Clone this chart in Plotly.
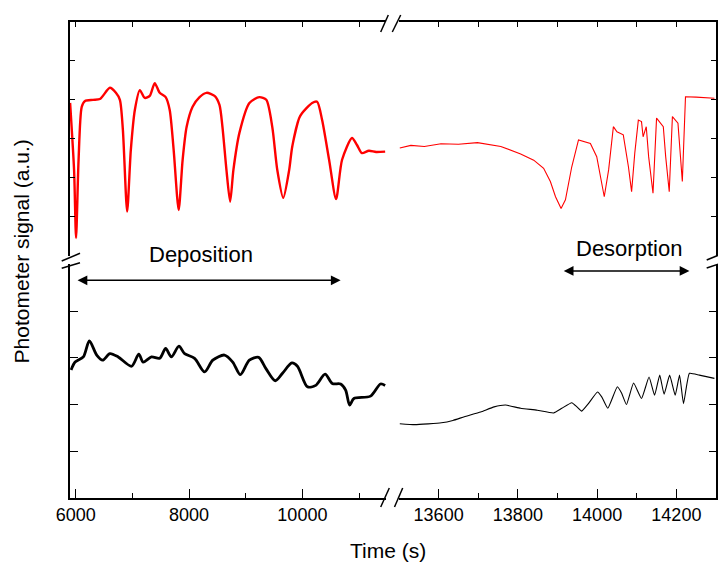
import plotly.graph_objects as go
from plotly.subplots import make_subplots

# ---- data (time in s, signal in arbitrary units) ----
red_dep_t = [5902, 5972, 6007, 6051, 6107, 6165, 6306, 6429, 6604, 6710, 6780, 6833, 6908, 6973,
             7044, 7132, 7219, 7307, 7395, 7483, 7588, 7659, 7729, 7817, 7887, 7957, 8063, 8186,
             8309, 8450, 8537, 8590, 8660, 8725, 8783, 8889, 9065, 9240, 9363, 9469, 9557, 9662,
             9767, 9820, 9943, 9996, 10172, 10260, 10348, 10471, 10594, 10700, 10875, 10963,
             11050, 11173, 11300, 11460]
red_dep_v = [3.92, 2.19, 0.45, 2.45, 3.82, 3.97, 4.00, 4.02, 4.31, 4.18, 4.00, 3.23, 1.13, 2.71,
             3.74, 4.25, 4.05, 4.10, 4.43, 4.18, 4.07, 3.74, 2.71, 1.17, 2.46, 3.30, 3.82, 4.07,
             4.18, 4.10, 3.87, 3.30, 2.20, 1.38, 2.20, 3.15, 3.92, 4.07, 4.00, 3.30, 2.20, 1.48,
             2.20, 2.79, 3.53, 3.66, 3.92, 3.95, 3.48, 2.46, 1.45, 2.46, 3.02, 2.84,
             2.63, 2.69, 2.66, 2.67]

red_des_t = [13502, 13530, 13564, 13606, 13650, 13698, 13757, 13807, 13840, 13865, 13882, 13895,
             13909, 13920, 13936, 13953, 13983, 13999, 14018, 14029, 14041, 14050, 14066, 14079,
             14087, 14095, 14104, 14112, 14116, 14124, 14130, 14141, 14150, 14167, 14173, 14182,
             14190, 14204, 14215, 14223, 14250, 14296]
red_des_v = [2.76, 2.83, 2.80, 2.87, 2.86, 2.90, 2.80, 2.61, 2.45, 2.24, 1.90, 1.51,
             1.21, 1.43, 2.28, 2.97, 2.88, 2.54, 1.51, 2.20, 3.31, 3.18, 3.10, 2.28,
             1.64, 2.63, 3.48, 3.44, 3.05, 3.31, 2.54, 1.60, 3.53, 3.31, 2.54, 1.64,
             3.57, 3.40, 1.90, 4.08, 4.07, 4.04]

blk_dep_t = [5919, 5990, 6135, 6241, 6371, 6476, 6604, 6750, 6986, 7114, 7190, 7337, 7483, 7588,
             7688, 7822, 7922, 8098, 8274, 8419, 8625, 8771, 8906, 9064, 9228, 9357, 9521, 9649,
             9814, 9913, 10089, 10236, 10400, 10528, 10675, 10763, 10833, 10909, 11202, 11378,
             11460]
blk_dep_v = [2.74, 2.91, 3.02, 3.36, 3.06, 2.95, 3.09, 3.02, 2.82, 3.08, 2.91, 3.02, 2.99, 3.20,
             3.02, 3.25, 3.09, 2.99, 2.70, 2.95, 3.06, 2.91, 2.64, 2.95, 3.01, 2.77, 2.51, 2.67,
             2.89, 2.82, 2.38, 2.41, 2.65, 2.45, 2.44, 2.31, 1.99, 2.13, 2.18, 2.44,
             2.41]

blk_des_t = [13502, 13540, 13607, 13636, 13665, 13706, 13740, 13769, 13807, 13849, 13890, 13911,
             13936, 13949, 13961, 13978, 14001, 14012, 14027, 14051, 14062, 14074, 14092, 14112,
             14131, 14145, 14158, 14169, 14183, 14197, 14208, 14218, 14233, 14258, 14296]
blk_des_v = [1.59, 1.57, 1.61, 1.66, 1.74, 1.84, 1.95, 1.99, 1.92, 1.88, 1.82, 1.92,
             2.04, 1.95, 1.86, 2.02, 2.27, 2.16, 1.92, 2.38, 2.24, 2.00, 2.46, 2.13,
             2.59, 2.20, 2.63, 2.22, 2.63, 2.20, 2.63, 2.02, 2.67, 2.63, 2.56]

FONT = "Liberation Sans, Arial, sans-serif"
W, H = 718, 562
ML, MR, MT, MB = 70, 2, 22, 64
PW, PH = W - ML - MR, H - MT - MB


def px(x):
    return (x - ML) / PW


def py(y):
    return (H - MB - y) / PH


fig = make_subplots(rows=2, cols=2)

fig.add_trace(go.Scatter(x=red_dep_t, y=red_dep_v, mode="lines",
                         line=dict(color="#ff0000", width=2.4, shape="spline", smoothing=0.7)),
              row=1, col=1)
fig.add_trace(go.Scatter(x=red_des_t, y=red_des_v, mode="lines",
                         line=dict(color="#ff0000", width=1.1)), row=1, col=2)
fig.add_trace(go.Scatter(x=blk_dep_t, y=blk_dep_v, mode="lines",
                         line=dict(color="#000000", width=2.8, shape="spline", smoothing=0.8)),
              row=2, col=1)
fig.add_trace(go.Scatter(x=blk_des_t, y=blk_des_v, mode="lines",
                         line=dict(color="#000000", width=1.1, shape="spline", smoothing=0.4)),
              row=2, col=2)

left_dom = [0, px(386)]
right_dom = [px(399), 1]
up_dom = [py(255.5), 1]
low_dom = [0, py(264.4)]
LEFT_RANGE = [5900, 11475]
RIGHT_RANGE = [13500, 14300]

axline = dict(showline=True, linecolor="black", linewidth=1.5, showgrid=False,
              zeroline=False, ticks="inside", tickcolor="black", tickwidth=1.3)

# upper-left
fig.update_xaxes(row=1, col=1, domain=left_dom, range=LEFT_RANGE, side="top",
                 showticklabels=False, tick0=6000, dtick=1000, ticklen=5, **axline)
fig.update_yaxes(row=1, col=1, domain=up_dom, range=[0, 6], side="left",
                 showticklabels=False, tick0=0, dtick=1, ticklen=5, **axline)
# upper-right
fig.update_xaxes(row=1, col=2, domain=right_dom, range=RIGHT_RANGE, side="top",
                 showticklabels=False, tick0=13600, dtick=100, ticklen=5, **axline)
fig.update_yaxes(row=1, col=2, domain=up_dom, range=[0, 6], side="right",
                 showticklabels=False, tick0=0, dtick=1, ticklen=5, **axline)
# lower-left
fig.update_xaxes(row=2, col=1, domain=left_dom, range=LEFT_RANGE, side="bottom",
                 showticklabels=True, tick0=6000, dtick=2000, ticklen=9, tickformat="d",
                 minor=dict(dtick=1000, tick0=6000, ticks="inside", ticklen=5,
                            tickcolor="black", tickwidth=1.3),
                 tickfont=dict(family=FONT, size=18, color="black"), **axline)
fig.update_yaxes(row=2, col=1, domain=low_dom, range=[0, 5], side="left",
                 showticklabels=False, tick0=0, dtick=1, ticklen=8, **axline)
# lower-right
fig.update_xaxes(row=2, col=2, domain=right_dom, range=RIGHT_RANGE, side="bottom",
                 showticklabels=True, tick0=13600, dtick=200, ticklen=9, tickformat="d",
                 minor=dict(dtick=100, tick0=13600, ticks="inside", ticklen=5,
                            tickcolor="black", tickwidth=1.3),
                 tickfont=dict(family=FONT, size=18, color="black"), **axline)
fig.update_yaxes(row=2, col=2, domain=low_dom, range=[0, 5], side="right",
                 showticklabels=False, tick0=0, dtick=1, ticklen=7, **axline)

# axis break marks
breaks = [
    ((380.7, 32), (388.3, 15)), ((392.3, 32), (400.7, 15)),
    ((380.7, 507), (389.3, 488)), ((394.5, 507), (402.7, 488)),
    ((61.7, 261), (80, 253.3)), ((61.7, 268.3), (80, 262.7)),
    ((706.7, 260), (719, 255)), ((706.7, 268), (719, 264)),
]
for (x0, y0), (x1, y1) in breaks:
    fig.add_shape(type="line", xref="paper", yref="paper",
                  x0=px(x0), y0=py(y0), x1=px(x1), y1=py(y1),
                  line=dict(color="black", width=1.5))

# double-headed arrows in data coordinates of the lower panels
fig.add_annotation(xref="x3", yref="y3", axref="x3", ayref="y3",
                   x=10675, y=4.66, ax=6007, ay=4.66, text="", showarrow=True,
                   arrowhead=2, startarrowhead=2, arrowside="end+start",
                   arrowsize=1.3, arrowwidth=1.5, arrowcolor="black")
fig.add_annotation(xref="x4", yref="y4", axref="x4", ayref="y4",
                   x=14233, y=4.86, ax=13912, ay=4.86, text="", showarrow=True,
                   arrowhead=2, startarrowhead=2, arrowside="end+start",
                   arrowsize=1.3, arrowwidth=1.5, arrowcolor="black")

fig.add_annotation(xref="paper", yref="paper", x=px(201.2), y=py(254), text="Deposition",
                   showarrow=False, xanchor="center", yanchor="middle",
                   font=dict(family=FONT, size=22, color="black"))
fig.add_annotation(xref="paper", yref="paper", x=px(629), y=py(248.3), text="Desorption",
                   showarrow=False, xanchor="center", yanchor="middle",
                   font=dict(family=FONT, size=22, color="black"))

# axis titles
fig.add_annotation(xref="paper", yref="paper", x=px(387.6), y=py(550.7),
                   text="Time (s)", showarrow=False, xanchor="center", yanchor="middle",
                   font=dict(family=FONT, size=21, color="black"))
fig.add_annotation(xref="paper", yref="paper", x=px(21.7), y=py(251.7),
                   text="Photometer signal (a.u.)", showarrow=False, textangle=-90,
                   xanchor="center", yanchor="middle",
                   font=dict(family=FONT, size=21, color="black"))

fig.update_layout(width=W, height=H, margin=dict(l=ML, r=MR, t=MT, b=MB),
                  paper_bgcolor="white", plot_bgcolor="white", showlegend=False,
                  font=dict(family=FONT, color="black"))

fig.write_html("out.html")
